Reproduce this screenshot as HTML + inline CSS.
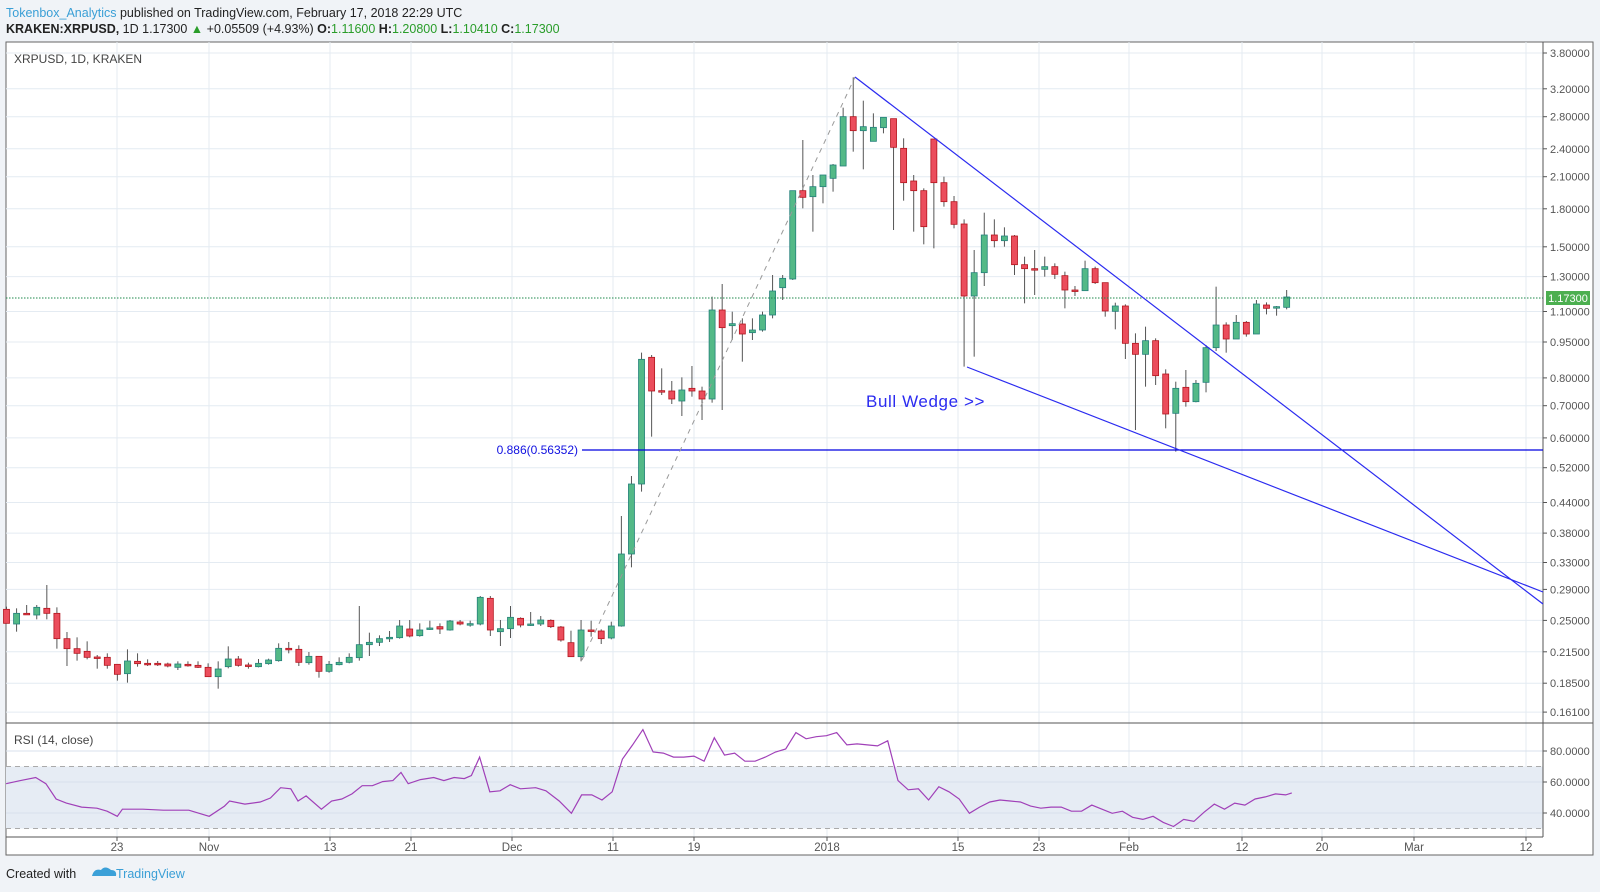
<!DOCTYPE html>
<html><head><meta charset="utf-8">
<style>
html,body{margin:0;padding:0;background:#f0f3f7;width:1600px;height:892px;overflow:hidden;font-family:"Liberation Sans",sans-serif;}
svg{position:absolute;left:0;top:0}
</style></head>
<body>
<svg id="s" width="1600" height="892" xmlns="http://www.w3.org/2000/svg" font-family="Liberation Sans, sans-serif">
<text x="6" y="17" font-size="12.5" fill="#222"><tspan fill="#3a9fd6">Tokenbox_Analytics</tspan> published on TradingView.com, February 17, 2018 22:29 UTC</text>
<text x="6" y="33" font-size="12.5" fill="#222"><tspan font-weight="bold">KRAKEN:XRPUSD,</tspan> 1D  1.17300 <tspan fill="#2a9d2a">▲</tspan> +0.05509 (+4.93%) <tspan font-weight="bold">O:</tspan><tspan fill="#2a9d2a">1.11600</tspan> <tspan font-weight="bold">H:</tspan><tspan fill="#2a9d2a">1.20800</tspan> <tspan font-weight="bold">L:</tspan><tspan fill="#2a9d2a">1.10410</tspan> <tspan font-weight="bold">C:</tspan><tspan fill="#2a9d2a">1.17300</tspan></text>
<rect x="6" y="42" width="1587" height="813" fill="#fff" stroke="#666" stroke-width="1"/>
<g id="g"></g>
<text x="6" y="878" font-size="12.5" fill="#222">Created with</text>
<path d="M92 876 q2-8 9-6 q4-5 10 0 q6 0 5 6 z" fill="#3ba0d8"/>
<text x="116" y="878" font-size="12.5" fill="#3a9fd6">TradingView</text>
</svg>
<script>
const g=document.getElementById('g');let h='';
const PL=6,PR=1543,PT=42,PB=723,RB=837;
const Y=p=>53+(1.335-Math.log(p))*208.5;
const vx=[[117,'23'],[209,'Nov'],[330,'13'],[411,'21'],[512,'Dec'],[613,'11'],[694,'19'],[827,'2018'],[958,'15'],[1039,'23'],[1129,'Feb'],[1242,'12'],[1322,'20'],[1414,'Mar'],[1526,'12']];
vx.forEach(v=>{h+=`<line x1="${v[0]}" y1="${PT}" x2="${v[0]}" y2="${RB}" stroke="#e4ebf2"/>`;
h+=`<line x1="${v[0]}" y1="${RB}" x2="${v[0]}" y2="${RB+4}" stroke="#555"/><text x="${v[0]}" y="${RB+14}" font-size="11.5" fill="#555" text-anchor="middle">${v[1]}</text>`;});
const pt=[3.8,3.2,2.8,2.4,2.1,1.8,1.5,1.3,1.1,0.95,0.8,0.7,0.6,0.52,0.44,0.38,0.33,0.29,0.25,0.215,0.185,0.161];
pt.forEach(p=>{const y=Y(p).toFixed(1);h+=`<line x1="${PL}" y1="${y}" x2="${PR}" y2="${y}" stroke="#e4ebf2"/>`;
h+=`<line x1="${PR}" y1="${y}" x2="${PR+4}" y2="${y}" stroke="#555"/><text x="${PR+7}" y="${+y+4}" font-size="11" fill="#555">${p.toFixed(5)}</text>`;});
const R=v=>813-(v-40)*1.55;
h+=`<rect x="${PL}" y="${R(70)}" width="${PR-PL}" height="${R(30)-R(70)}" fill="#e6ecf4"/>`;
[80,60,40].forEach(v=>{h+=`<line x1="${PL}" y1="${R(v)}" x2="${PR}" y2="${R(v)}" stroke="#d8e1ec"/><line x1="${PR}" y1="${R(v)}" x2="${PR+4}" y2="${R(v)}" stroke="#555"/><text x="${PR+7}" y="${R(v)+4}" font-size="11" fill="#555">${v}.0000</text>`;});
[70,30].forEach(v=>{h+=`<line x1="${PL}" y1="${R(v)}" x2="${PR}" y2="${R(v)}" stroke="#aaa" stroke-dasharray="5,4"/>`;});
h+=`<line x1="${PR}" y1="${PT}" x2="${PR}" y2="${RB}" stroke="#555"/><line x1="${PL}" y1="${PB}" x2="1593" y2="${PB}" stroke="#555"/><line x1="${PL}" y1="${RB}" x2="${PR}" y2="${RB}" stroke="#555"/>`;
h+=`<text x="14" y="63" font-size="12" fill="#444">XRPUSD, 1D, KRAKEN</text><text x="14" y="744" font-size="12" fill="#444">RSI (14, close)</text>`;
const A=[[148,140,190,190],[192,145,215,160],[160,135,165,161],[165,135,178,142],[145,75,178,160],[160,142,266,236],[236,216,318,266],[266,232,302,280],[274,244,298,292],[291,285,326,292],[292,280,326,316],[313,313,362,343],[341,268,368,303],[304,280,320,311],[310,298,318,312],[310,303,318,314],[312,308,322,318],[322,304,330,312],[313,304,320,317],[316,304,324,322],[322,310,350,350],[350,304,386,327],[320,259,325,297],[297,288,320,316],[315,308,326,317],[320,297,322,310],[311,296,314,300],[302,250,305,265],[265,246,280,269],[268,256,318,307],[308,276,314,289],[289,289,353,334],[334,303,338,313],[314,292,316,307],[307,280,310,292],[293,138,302,254],[254,218,288,247],[247,226,258,236],[236,213,246,232],[233,180,236,198],[207,180,232,228],[227,190,230,210],[207,182,210,204],[200,190,222,207],[210,180,212,183],[186,180,196,192],[194,182,200,191],[192,108,196,112],[115,108,228,210],[215,180,258,206],[206,138,234,172],[175,172,202,195],[195,156,198,192],[192,168,198,180],[181,178,204,200],[201,198,245,240],[248,212,290,290],[290,180,304,210],[210,182,230,213],[213,208,252,236],[234,185,238,198]];
const B=[[1038,708,1040,822],[822,588,862,612],[612,218,635,238],[232,225,470,333],[332,265,345,334],[333,303,372,357],[363,292,408,330],[325,258,350,333],[333,320,420,357],[357,50,368,90],[90,12,390,143],[137,95,180,131],[132,115,245,162],[158,115,180,150],[150,95,155,105]];
const C=[[765,645,775,693],[683,645,720,655],[657,645,660,392],[392,240,445,412],[410,345,515,380],[380,345,430,345],[355,312,395,315],[318,143,318,170],[170,52,275,212],[212,122,328,200],[244,160,244,202],[203,172,220,172],[176,176,510,262],[265,235,422,368],[363,345,515,392],[392,385,553,500],[237,237,565,368],[368,350,440,425],[425,408,505,493]];
const D=[[162,148,590,378],[378,240,560,308],[308,128,348,195],[195,148,232,212],[212,172,230,198],[198,195,315,284],[284,260,400,296],[296,240,375,297],[298,260,320,290],[290,280,327,313],[317,305,415,360],[360,348,378,361],[362,272,362,296],[296,290,342,338],[338,338,440,423],[424,398,478,408],[408,403,567,520],[520,490,780,553],[553,470,650,512],[512,505,645,617],[612,598,775,732],[730,635,845,655],[652,600,710,695],[695,630,697,640],[637,525,667,533],[533,350,543,465],[465,457,548,507],[507,435,507,457],[457,453,500,492],[492,390,492,402],[405,397,433,415],[412,408,437,410],[412,360,418,381]];
const all=[];A.forEach(c=>all.push(c.map(z=>560+z/3)));B.forEach(c=>all.push(c.map(z=>280+z/3)));C.forEach(c=>all.push(c.map(z=>60+z/3)));D.forEach(c=>all.push(c.map(z=>170+z/3)));
all.forEach((c,i)=>{const x=6.5+i*10.08;let [o,hi,lo,cl]=c;hi=Math.min(hi,o,cl);lo=Math.max(lo,o,cl);const up=cl<=o;
const top=Math.min(o,cl),bh=Math.max(Math.abs(o-cl),1.5);
h+=`<line x1="${x}" y1="${hi}" x2="${x}" y2="${lo}" stroke="#555" stroke-width="1"/>`;
h+=`<rect x="${x-3}" y="${top}" width="6" height="${bh}" fill="${up?'#53b987':'#eb4d5c'}" stroke="${up?'#23807a':'#b3161e'}" stroke-width="0.8"/>`;});
const rp=[[6,768],[20,765],[35,762],[45,768],[55,783],[65,787],[80,791],[95,792],[105,795],[115,800],[120,793],[140,793],[160,794],[185,794],[205,800],[220,790],[225,785],[240,788],[255,786],[265,782],[275,772],[285,773],[292,785],[300,780],[315,793],[325,785],[335,783],[345,778],[355,770],[365,770],[375,766],[385,765],[393,757],[400,768],[412,764],[425,762],[435,765],[445,762],[455,763],[462,760],[470,742],[480,776],[490,775],[500,769],[510,773],[525,772],[535,775],[548,785],[560,797],[570,779],[580,779],[590,784],[600,776],[610,744],[620,730],[630,715],[640,737],[650,738],[660,742],[670,742],[680,741],[690,746],[700,723],[710,740],[720,738],[730,746],[740,746],[750,742],[760,737],[770,734],[780,718],[790,724],[800,722],[810,721],[820,718],[830,730],[840,729],[850,730],[860,731],[870,726],[880,765],[890,774],[900,773],[910,784],[920,771],[930,776],[940,783],[950,797],[960,791],[970,786],[980,784],[990,785],[1000,786],[1010,790],[1020,792],[1030,791],[1040,791],[1050,795],[1060,795],[1070,789],[1080,793],[1090,797],[1100,795],[1110,801],[1120,803],[1130,800],[1140,806],[1150,810],[1160,803],[1170,805],[1180,796],[1190,788],[1200,793],[1210,787],[1220,789],[1230,783],[1240,781],[1250,778],[1260,779],[1266,777]];
h+=`<polyline fill="none" stroke="#a040b8" stroke-width="1.2" points="${rp.map(p=>(p[0]*1.0204).toFixed(1)+','+(p[1]*1.0204).toFixed(1)).join(' ')}"/>`;
h+=`<line x1="${PL}" y1="298" x2="${PR}" y2="298" stroke="#1f8a4c" stroke-dasharray="1.5,1.5"/>`;
h+=`<rect x="1546" y="291" width="44" height="14" fill="#4caf50"/><text x="1568" y="302" font-size="11" fill="#fff" text-anchor="middle">1.17300</text>`;
h+=`<line x1="582" y1="450" x2="${PR}" y2="450" stroke="#0000e0" stroke-width="1.2"/><text x="578" y="454" font-size="12" fill="#1010e0" text-anchor="end">0.886(0.56352)</text>`;
h+=`<line x1="582" y1="660" x2="855" y2="77" stroke="#999" stroke-dasharray="5,5"/>`;
h+=`<line x1="855" y1="77" x2="${PR}" y2="604" stroke="#2b2bf0" stroke-width="1.2"/>`;
h+=`<line x1="967" y1="367" x2="${PR}" y2="592" stroke="#2b2bf0" stroke-width="1.2"/>`;
h+=`<text x="866" y="407" font-size="17" letter-spacing="0.6" fill="#2b2bf0">Bull Wedge &gt;&gt;</text>`;
g.innerHTML=h;
</script>
</body></html>
